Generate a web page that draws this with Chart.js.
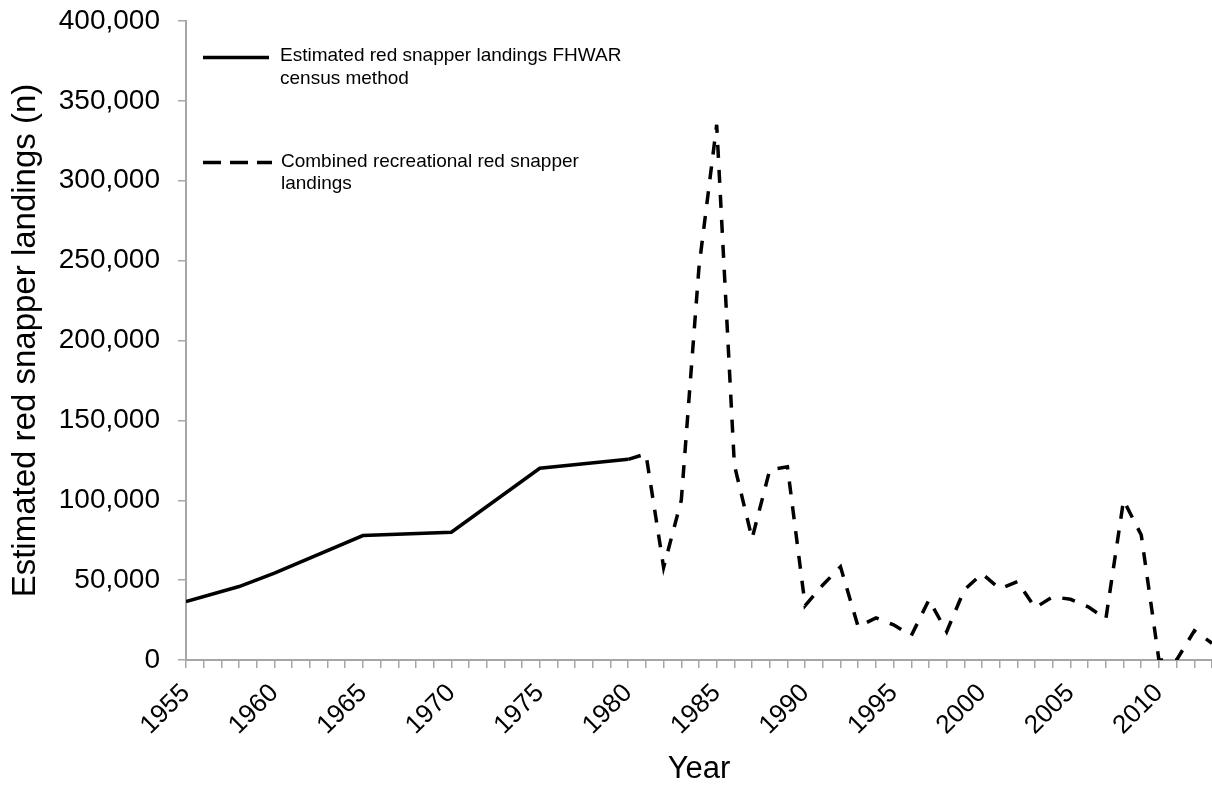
<!DOCTYPE html>
<html>
<head>
<meta charset="utf-8">
<script src="https://cdn.jsdelivr.net/npm/chart.js@4.4.1/dist/chart.umd.min.js"></script>
<style>
  html, body { margin: 0; padding: 0; background: #fff; overflow: hidden; }
  canvas { display: block; }
</style>
</head>
<body>
<canvas id="chart" width="1212" height="790"></canvas>
<script>
// FHWAR census-method estimates (survey years)
const censusYears = [1955, 1958, 1960, 1965, 1970, 1975, 1980];
const censusLandings = [36500, 46000, 54400, 77900, 80000, 120000, 125600];

// Combined recreational landings, yearly
const recYears = [1980, 1981, 1982, 1983, 1984, 1985, 1986, 1987, 1988, 1989,
                  1990, 1991, 1992, 1993, 1994, 1995, 1996, 1997, 1998, 1999,
                  2000, 2001, 2002, 2003, 2004, 2005, 2006, 2007, 2008, 2009,
                  2010, 2011, 2012, 2013];
const recLandings = [125600, 129000, 58000, 100000, 246000, 335000, 122000, 76000, 119000, 121000,
                     34000, 47000, 58300, 20800, 26400, 22000, 15200, 37700, 17700, 44000,
                     54000, 44600, 49000, 32700, 39600, 38000, 33300, 25800, 100000, 78300,
                     0, 0, 18300, 10500];

// Axis range and labels
const yearMin = 1955;
const yearMax = 2013;
const yearLabelEvery = 5;
const landingsMax = 400000;
const landingsStep = 50000;
const xTitle = 'Year';
const yTitle = 'Estimated red snapper landings (n)';
const censusLabel = ['Estimated red snapper landings FHWAR', 'census method'];
const recLabel = ['Combined recreational red snapper', 'landings'];

const FONT = '"Liberation Sans", Arial, sans-serif';
const AXIS_GRAY = '#a6a6a6';

const toPoints = (xs, ys) => xs.map((x, i) => ({ x, y: ys[i] }));

// Two-line legend drawn inside the plot, top-left
const inlineLegend = {
  id: 'inlineLegend',
  afterDatasetsDraw(chart) {
    const { ctx, chartArea } = chart;
    const x0 = chartArea.left + 17;
    ctx.save();
    ctx.strokeStyle = '#000';
    ctx.lineWidth = 3.5;
    ctx.lineCap = 'butt';
    ctx.beginPath();
    ctx.moveTo(x0, chartArea.top + 36.5);
    ctx.lineTo(x0 + 66, chartArea.top + 36.5);
    ctx.stroke();
    ctx.setLineDash([18, 9]);
    ctx.beginPath();
    ctx.moveTo(x0, chartArea.top + 141.5);
    ctx.lineTo(x0 + 69, chartArea.top + 141.5);
    ctx.stroke();
    ctx.setLineDash([]);
    ctx.fillStyle = '#000';
    ctx.font = '19px ' + FONT;
    ctx.textBaseline = 'alphabetic';
    ctx.textAlign = 'left';
    censusLabel.forEach((t, i) => ctx.fillText(t, x0 + 77, chartArea.top + 40 + i * 22.5));
    recLabel.forEach((t, i) => ctx.fillText(t, x0 + 78, chartArea.top + 146 + i * 22));
    ctx.restore();
  }
};

new Chart(document.getElementById('chart'), {
  type: 'line',
  data: {
    datasets: [
      {
        label: censusLabel.join(' '),
        data: toPoints(censusYears, censusLandings),
        borderColor: '#000',
        borderWidth: 3.5,
        pointRadius: 0,
        tension: 0
      },
      {
        label: recLabel.join(' '),
        data: toPoints(recYears, recLandings),
        borderColor: '#000',
        borderWidth: 3.5,
        borderDash: [13, 12],
        pointRadius: 0,
        tension: 0
      }
    ]
  },
  options: {
    responsive: false,
    animation: false,
    devicePixelRatio: 1,
    layout: { padding: { top: 21, left: 0, right: 0, bottom: 0 } },
    plugins: { legend: { display: false }, tooltip: { enabled: false } },
    scales: {
      x: {
        type: 'linear',
        min: yearMin,
        max: yearMax,
        grid: { drawOnChartArea: false, drawTicks: true, tickLength: 8, color: AXIS_GRAY, lineWidth: 1.5 },
        border: { display: true, color: AXIS_GRAY, width: 2 },
        ticks: {
          stepSize: 1,
          autoSkip: false,
          minRotation: 45,
          maxRotation: 45,
          padding: 10,
          color: '#000',
          font: { family: FONT, size: 26 },
          callback: (v) => (v % yearLabelEvery === 0 ? String(v) : '')
        },
        title: { display: true, text: xTitle, color: '#000', font: { family: FONT, size: 31 }, padding: { top: 0, bottom: 2 } },
        afterFit: (scale) => {
          scale.height = 130;
          scale.paddingLeft = 0;
          scale.paddingRight = 0;
        }
      },
      y: {
        min: 0,
        max: landingsMax,
        grid: { drawOnChartArea: false, drawTicks: true, tickLength: 8, color: AXIS_GRAY, lineWidth: 1.5 },
        border: { display: true, color: AXIS_GRAY, width: 2 },
        ticks: {
          stepSize: landingsStep,
          padding: 18,
          color: '#000',
          font: { family: FONT, size: 28 },
          callback: (v) => v.toLocaleString('en-US')
        },
        title: { display: true, text: yTitle, color: '#000', font: { family: FONT, size: 33 }, padding: { top: 6, bottom: 0 } },
        afterFit: (scale) => {
          scale.width = 186;
          scale.paddingTop = 0;
          scale.paddingBottom = 0;
        }
      }
    }
  },
  plugins: [inlineLegend]
});
</script>
</body>
</html>
